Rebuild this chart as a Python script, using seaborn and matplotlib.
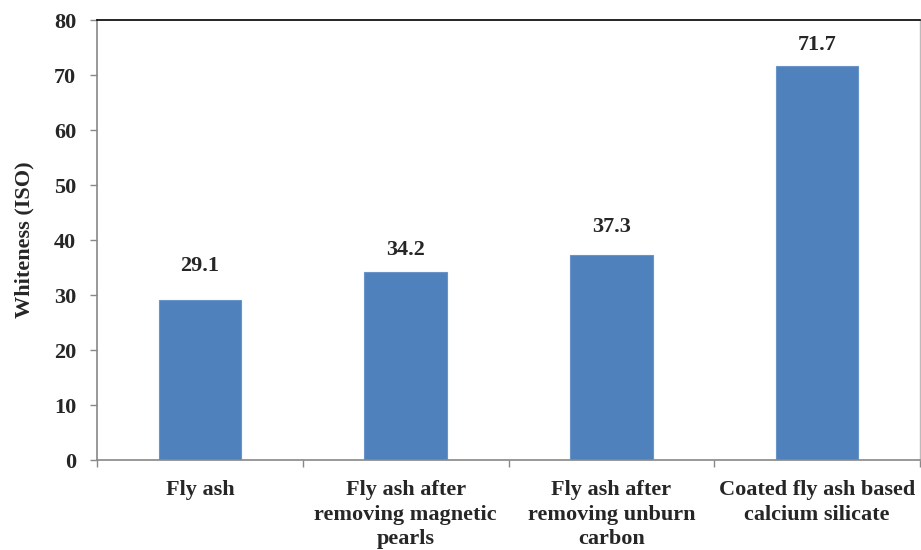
import matplotlib
matplotlib.use("Agg")
import matplotlib.pyplot as plt
from matplotlib.ticker import FixedLocator
import seaborn as sns
import pandas as pd

categories = [
    "Fly ash",
    "Fly ash after\nremoving magnetic\npearls",
    "Fly ash after\nremoving unburn\ncarbon",
    "Coated fly ash based\ncalcium silicate",
]
whiteness = [29.1, 34.2, 37.3, 71.7]
value_labels = ["29.1", "34.2", "37.3", "71.7"]
y_ticks = [0, 10, 20, 30, 40, 50, 60, 70, 80]

# vertical offset (points) of each value label above its bar
label_offsets = [17, 8.5, 13, 7.5]

sns.set_theme(style="white")
plt.rcParams["font.family"] = ["Liberation Serif", "DejaVu Serif"]
plt.rcParams["font.weight"] = "bold"

FS = 16

df = pd.DataFrame({"category": categories, "whiteness": whiteness})

fig = plt.figure(figsize=(9.21, 5.5), dpi=100)
ax = fig.add_axes([0.1053, 0.1636, 0.8937, 0.8])

sns.barplot(data=df, x="category", y="whiteness", color="#4F81BD",
            saturation=1, width=0.4, edgecolor="#6A94C8", linewidth=0.8, ax=ax)

ax.set_xlim(-0.5, len(categories) - 0.5)
ax.set_ylim(0, 80)
ax.yaxis.set_major_locator(FixedLocator(y_ticks))
ax.set_yticklabels([str(t) for t in y_ticks], fontsize=FS, fontweight="bold")

# category names centred under bars, tick marks on the boundaries
ax.set_xticks(range(len(categories)))
ax.set_xticklabels(categories, fontsize=FS, fontweight="bold", linespacing=1.3)
ax.xaxis.set_minor_locator(FixedLocator([i - 0.5 for i in range(len(categories) + 1)]))
ax.tick_params(axis="x", which="major", length=0, pad=14.5)
ax.tick_params(axis="x", which="minor", length=5, width=1, color="#888888", direction="out", bottom=True)
ax.tick_params(axis="y", which="major", length=5, width=1, color="#888888", direction="out", left=True, pad=10)

ax.set_xlabel("")
ax.set_ylabel("Whiteness (ISO)", fontsize=FS, fontweight="bold", labelpad=14)

for spine in ["left", "bottom"]:
    ax.spines[spine].set_color("#888888")
    ax.spines[spine].set_linewidth(1.2)
ax.spines["top"].set_color("black")
ax.spines["top"].set_linewidth(1.2)
ax.spines["right"].set_color("#BBBBBB")
ax.spines["right"].set_linewidth(1.0)

for i, (v, lab, off) in enumerate(zip(whiteness, value_labels, label_offsets)):
    ax.annotate(lab, (i, v), xytext=(0, off), textcoords="offset points",
                ha="center", va="bottom", fontsize=FS, fontweight="bold")

fig.savefig("out.png", dpi=100)
